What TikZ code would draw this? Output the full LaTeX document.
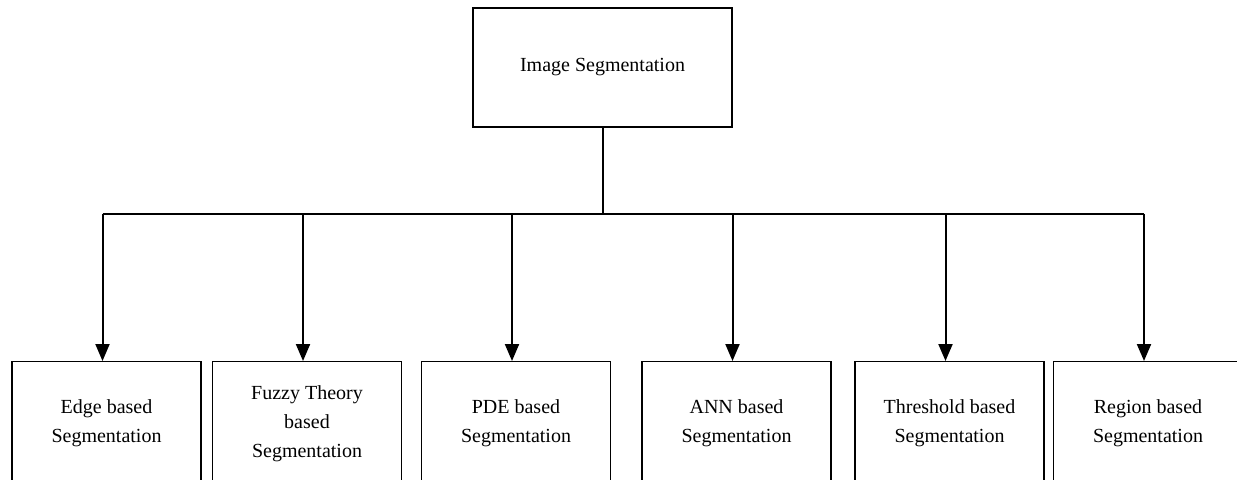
\documentclass[tikz,border=0pt]{standalone}
\usepackage{fontspec}
\setmainfont{Liberation Serif}
\usetikzlibrary{positioning, arrows.meta}

\tikzset{
  topbox/.style={draw, line width=0.6pt, minimum width=129.5pt, minimum height=59.5pt,
                 font=\fontsize{10}{14.5}\selectfont},
  methodbox/.style={draw, line width=0.6pt, anchor=north, align=center,
                    minimum width=94.5pt, minimum height=62pt,
                    font=\fontsize{10}{14.5}\selectfont},
  bus/.style={line width=1pt},
  arr/.style={line width=1pt, -{Triangle[length=8.5pt, width=7pt]}}
}

\begin{document}
\begin{tikzpicture}[x=0.5pt, y=-0.5pt]
  \useasboundingbox (0,0) rectangle (1237,479);
  \clip (0,0) rectangle (1237,479);

  % root of the tree
  \node[topbox] (img) at (602.5,67.5) {Image Segmentation};
  \coordinate (hub) at ([yshift=-43pt]img.south);

  % one box per family of methods
  \node[methodbox] (edge)   at (106.5,361) {Edge based\\Segmentation};
  \node[methodbox] (fuzzy)  at (307,361)   {Fuzzy Theory\\based\\Segmentation};
  \node[methodbox] (pde)    at (516,361)   {PDE based\\Segmentation};
  \node[methodbox] (ann)    at (736.5,361) {ANN based\\Segmentation};
  \node[methodbox] (thresh) at (949.5,361) {Threshold based\\Segmentation};
  \node[methodbox] (region) at (1148,361)  {Region based\\Segmentation};

  % trunk and bus
  \draw[bus] (img.south) -- (img.south |- hub);
  \draw[bus] ([xshift=-2pt]edge.north |- hub) -- ([xshift=-2pt]region.north |- hub);

  \foreach \n in {edge, fuzzy, pde, ann, thresh, region}
    \draw[arr] ([xshift=-2pt]\n.north |- hub) -- ([xshift=-2pt]\n.north);
\end{tikzpicture}
\end{document}
